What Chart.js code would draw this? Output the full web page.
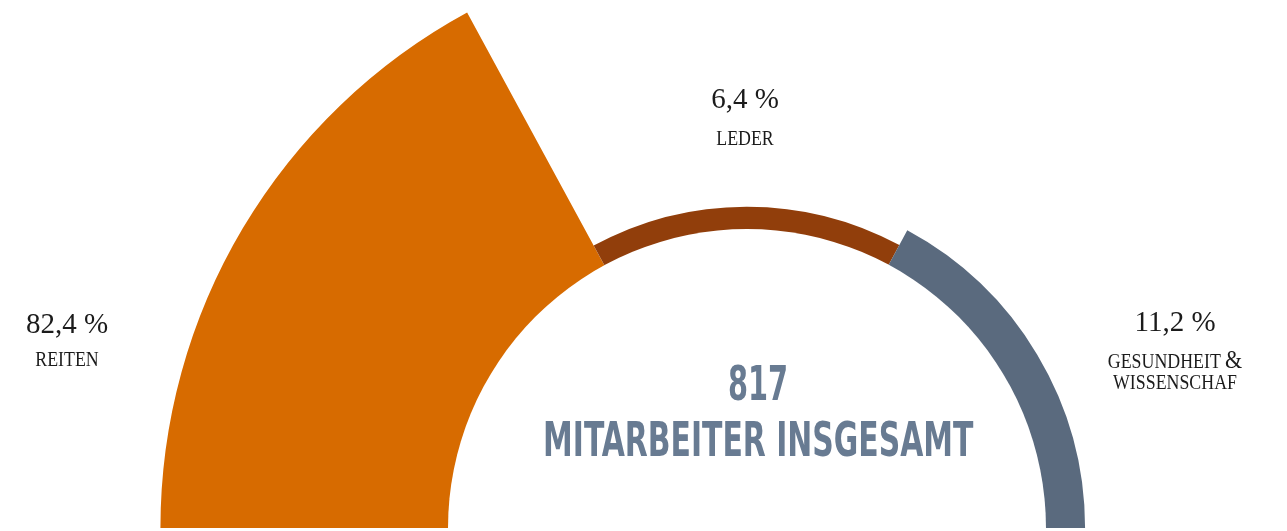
<!DOCTYPE html>
<html lang="de">
<head>
<meta charset="utf-8">
<title>Mitarbeiter</title>
<script src="https://cdn.jsdelivr.net/npm/chart.js@4/dist/chart.umd.min.js"></script>
<style>
  html, body { margin: 0; padding: 0; width: 1287px; height: 531px; overflow: hidden; background: #fff; }
  #chart { position: absolute; left: 0; top: -172px; }
  .lbl { position: absolute; width: 220px; text-align: center; color: #1b1b1b;
         font-family: "Liberation Serif", serif; white-space: pre-line; }
  .val { font-size: 29px; line-height: 29px; }
  .cat { font-size: 21px; line-height: 21px; transform: scaleX(0.85); }
  .cat .amp { font-size: 26px; }
  #center { position: absolute; left: 358px; width: 800px; top: 355px; text-align: center;
            font-family: "Liberation Sans Narrow", "DejaVu Sans Condensed", sans-serif;
            font-weight: bold; font-size: 48px; line-height: 56px; color: #687b92; }
  #center span { display: inline-block; white-space: nowrap; transform-origin: 50% 50%; }
</style>
</head>
<body>
<canvas id="chart" width="1494" height="1400"></canvas>
<div id="labels"></div>
<div id="center"></div>
<script>
  // Daten
  var categories = ['REITEN', 'LEDER', 'GESUNDHEIT &\nWISSENSCHAF'];
  var shares = [82.4, 6.4, 11.2];
  var shareLabels = ['82,4 %', '6,4 %', '11,2 %'];
  var segmentAngles = [61.5, 56.8, 61.7];   // Winkel je Segment (Grad)
  var totalEmployees = 817;
  var centerCaption = 'MITARBEITER INSGESAMT';
  var colors = ['#d76b00', '#913e0b', '#5a6a7e'];

  // Positionen der Beschriftungen (Mitte x, Oberkante Wert, Oberkante Kategorie)
  var labelPos = [
    { x: 67, top: 309, catTop: 349 },
    { x: 745, top: 84, catTop: 128 },
    { x: 1175, top: 307, catTop: 349 }
  ];

  // weisser Innenkreis: Radius = Wert 0 auf der r-Skala
  var holePlugin = {
    id: 'hole',
    afterDatasetsDraw: function (chart) {
      var r = chart.scales.r;
      var ctx = chart.ctx;
      ctx.save();
      ctx.fillStyle = '#fff';
      ctx.beginPath();
      ctx.arc(r.xCenter, r.yCenter, r.getDistanceFromCenterForValue(0), 0, Math.PI * 2);
      ctx.fill();
      ctx.restore();
    }
  };

  new Chart(document.getElementById('chart'), {
    type: 'polarArea',
    data: {
      labels: categories,
      datasets: [{
        data: shares,
        backgroundColor: colors,
        borderWidth: 0,
        angle: function (c) { return segmentAngles[c.dataIndex]; },
        clip: false
      }]
    },
    options: {
      responsive: false,
      animation: false,
      layout: { padding: 0 },
      plugins: { legend: { display: false }, tooltip: { enabled: false } },
      scales: {
        r: { display: false, min: -85.67, max: 114.9, startAngle: -90 }
      }
    },
    plugins: [holePlugin]
  });

  var box = document.getElementById('labels');
  categories.forEach(function (cat, i) {
    var p = labelPos[i];
    var v = document.createElement('div');
    v.className = 'lbl val';
    v.style.left = (p.x - 110) + 'px';
    v.style.top = p.top + 'px';
    v.textContent = shareLabels[i];
    box.appendChild(v);

    var c = document.createElement('div');
    c.className = 'lbl cat';
    c.style.left = (p.x - 110) + 'px';
    c.style.top = p.catTop + 'px';
    c.innerHTML = cat.replace('&', '<span class="amp">&amp;</span>');
    box.appendChild(c);
  });

  // Mitteltext, auf Zielbreite gestaucht
  var center = document.getElementById('center');
  [[String(totalEmployees), 60], [centerCaption, 430]].forEach(function (line) {
    var s = document.createElement('span');
    s.textContent = line[0];
    center.appendChild(s);
    center.appendChild(document.createElement('br'));
    s.style.transform = 'scaleX(' + (line[1] / s.offsetWidth) + ')';
  });
</script>
</body>
</html>
